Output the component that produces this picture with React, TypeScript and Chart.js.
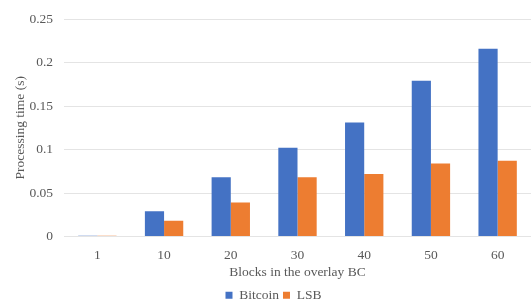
import React, { useEffect, useRef } from "react";
import { Chart, registerables } from "chart.js";

Chart.register(...registerables);

const categories = ["1", "10", "20", "30", "40", "50", "60"];
const bitcoin = [0.001, 0.029, 0.068, 0.102, 0.131, 0.179, 0.216];
const lsb = [0.001, 0.018, 0.039, 0.068, 0.072, 0.084, 0.087];
const seriesNames = ["Bitcoin", "LSB"];

const FONT = "'Liberation Serif', 'Times New Roman', serif";
const FS = 13.5;

export default function App() {
  const ref = useRef<HTMLCanvasElement | null>(null);
  useEffect(() => {
    document.body.style.margin = "0";
    const ctx = ref.current!;
    const chart = new Chart(ctx, {
      type: "bar",
      data: {
        labels: categories,
        datasets: [
          { label: seriesNames[0], data: bitcoin, backgroundColor: "#4472C4" },
          { label: seriesNames[1], data: lsb, backgroundColor: "#ED7D31" },
        ],
      },
      options: {
        animation: false,
        responsive: false,
        maintainAspectRatio: false,
        layout: { padding: { left: 12, right: -4, top: 6, bottom: -8 } },
        datasets: {
          bar: { categoryPercentage: 0.575, barPercentage: 1 },
        },
        plugins: {
          legend: {
            position: "bottom",
            labels: {
              boxWidth: 7,
              boxHeight: 7,
              padding: 4,
              color: "#595959",
              font: { family: FONT, size: FS },
            },
          },
          tooltip: { enabled: false },
        },
        scales: {
          x: {
            grid: { display: false },
            border: { display: false },
            ticks: { color: "#595959", font: { family: FONT, size: FS, lineHeight: 1 }, padding: 4 },
            title: {
              display: true,
              text: "Blocks in the overlay BC",
              color: "#595959",
              font: { family: FONT, size: FS, lineHeight: 1 },
              padding: { top: 0, bottom: 5 },
            },
          },
          y: {
            min: 0,
            max: 0.25,
            grid: { color: "#e4e4e4", drawTicks: false },
            border: { display: false },
            afterFit: (scale: any) => {
              scale.width = 52;
            },
            ticks: {
              stepSize: 0.05,
              color: "#595959",
              font: { family: FONT, size: FS },
              padding: 11,
              callback: (v: any) => String(Math.round(Number(v) * 100) / 100),
            },
            title: {
              display: true,
              text: "Processing time (s)",
              color: "#595959",
              font: { family: FONT, size: FS },
              padding: { top: 0, bottom: 1 },
            },
          },
        },
      },
    });
    return () => chart.destroy();
  }, []);
  return (
    <div style={{ position: "fixed", left: 0, top: 0, width: 531, height: 304, background: "#fff" }}>
      <canvas ref={ref} width={531} height={304} />
    </div>
  );
}
